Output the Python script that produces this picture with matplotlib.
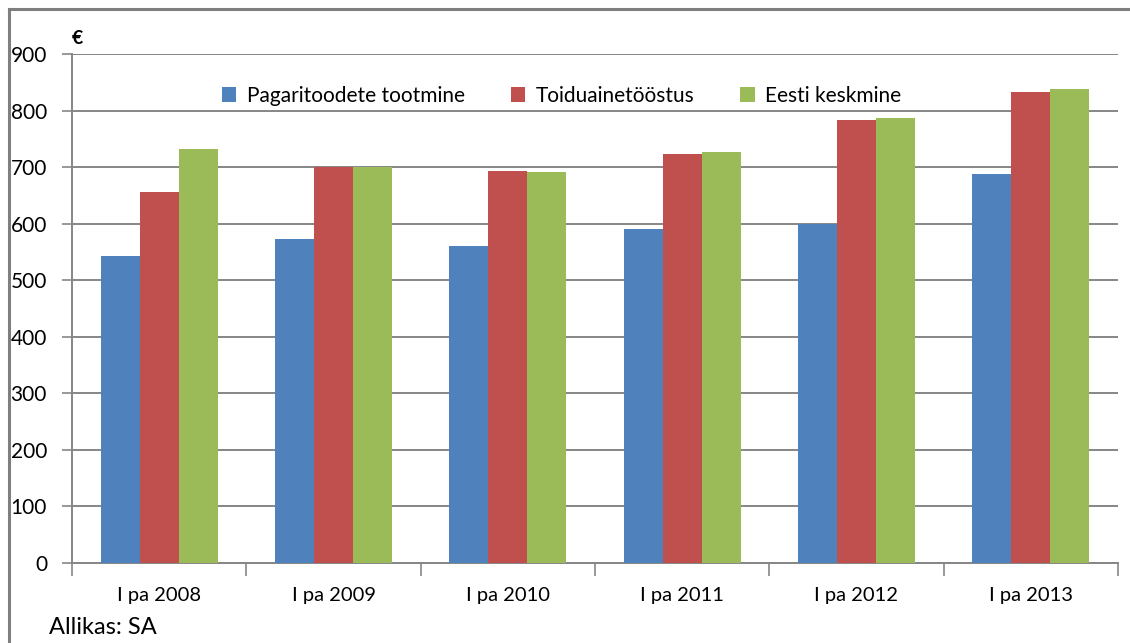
import numpy as np
import matplotlib
matplotlib.use("Agg")
import matplotlib.pyplot as plt
from matplotlib.lines import Line2D

plt.rcParams['font.family'] = ['Lato', 'DejaVu Sans']

# data
periods = ['I pa 2008', 'I pa 2009', 'I pa 2010', 'I pa 2011', 'I pa 2012', 'I pa 2013']
pagari = [543, 573, 560, 590, 600, 687]
toidu = [656, 701, 694, 723, 783, 832]
eesti = [732, 701, 692, 727, 787, 838]
series_names = ['Pagaritoodete tootmine', 'Toiduainetööstus', 'Eesti keskmine']
colors = ['#4F81BD', '#C0504D', '#9BBB59']
yticks = [0, 100, 200, 300, 400, 500, 600, 700, 800, 900]

W, H = 1130, 643
fig = plt.figure(figsize=(W / 100, H / 100), dpi=100)
ax = fig.add_axes([72 / W, 1 - 563 / H, (1118 - 72) / W, (563 - 54) / H])

x = np.arange(len(periods))
w = 0.224
for i, (vals, name, c) in enumerate(zip([pagari, toidu, eesti], series_names, colors)):
    ax.bar(x + (i - 1) * w, vals, width=w, color=c, label=name, zorder=3)

grid_c = '#868686'
ax.set_ylim(0, 900)
ax.set_xlim(-0.5, len(periods) - 0.5)
ax.set_yticks(yticks)
ax.yaxis.grid(True, color=grid_c, linewidth=1.4, zorder=0)
ax.tick_params(axis='y', length=7, width=1.2, color=grid_c, labelsize=15, pad=11)

# ticks at category boundaries, labels at centres
ax.set_xticks(np.arange(-0.5, len(periods), 1.0))
ax.set_xticklabels([])
ax.set_xticks(x, minor=True)
ax.set_xticklabels(periods, minor=True, fontsize=14.5)
ax.tick_params(axis='x', which='major', length=9, width=1.2, color=grid_c, direction='out')
ax.tick_params(axis='x', which='minor', length=0, pad=17)

for s in ['top', 'right']:
    ax.spines[s].set_visible(False)
for s in ['left', 'bottom']:
    ax.spines[s].set_color(grid_c)
    ax.spines[s].set_linewidth(1.4)

ax.legend(loc='center', bbox_to_anchor=(0.497, 0.851), bbox_transform=fig.transFigure,
          ncol=3, frameon=False, fontsize=15, handlelength=0.7, handleheight=0.7,
          handletextpad=0.5, columnspacing=2.2)

fig.text(72 / W, 1 - 38 / H, '€', fontsize=14, fontweight='bold', va='center', ha='left')
fig.text(49 / W, 1 - 627 / H, 'Allikas: SA', fontsize=17, va='center', ha='left')

# chart frame
fx, fy = 9 / W, 1 - 9 / H
fig.add_artist(Line2D([fx, 1.0], [fy, fy], transform=fig.transFigure, color='#7f7f7f', linewidth=2.2))
fig.add_artist(Line2D([fx, fx], [0.0, fy], transform=fig.transFigure, color='#7f7f7f', linewidth=2.2))

fig.savefig('out.png', dpi=100)
